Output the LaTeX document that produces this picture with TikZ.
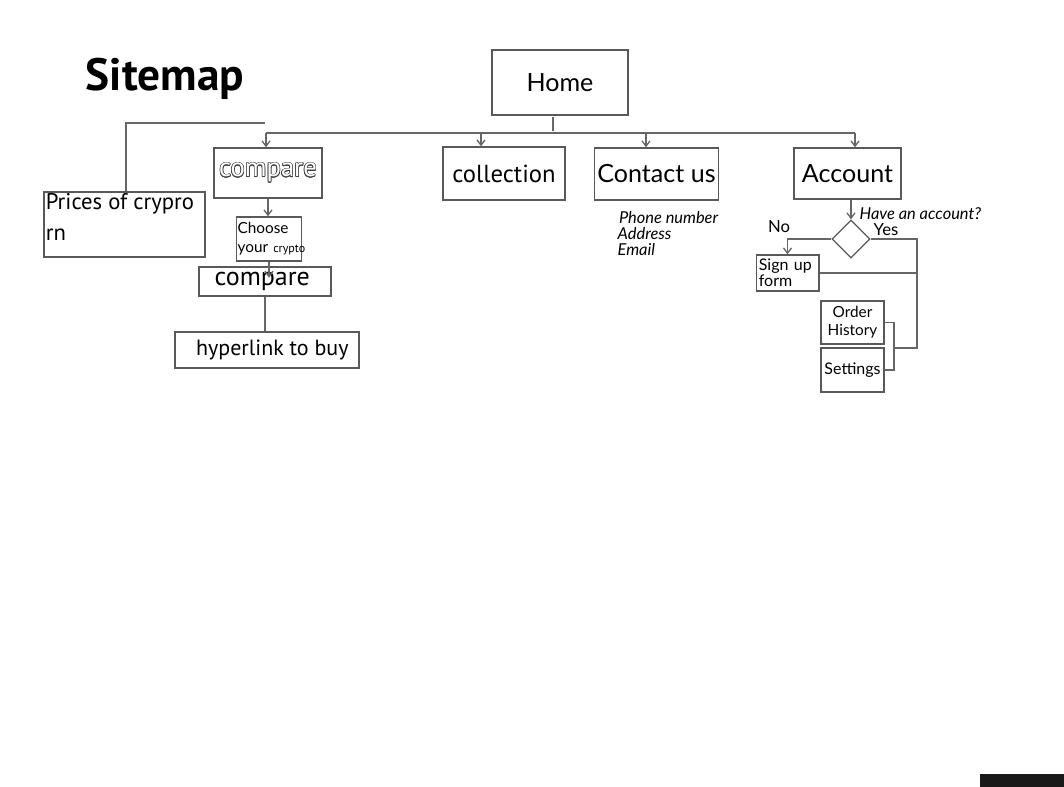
\documentclass[tikz,border=0pt]{standalone}
\usepackage{fontspec}
\setmainfont{Lato}
\newfontfamily\myriad{PT Sans}
\usepackage{contour}
\contourlength{0.45pt}
\usetikzlibrary{arrows.meta,shapes.geometric}

\begin{document}
\begin{tikzpicture}[x=0.75pt,y=-0.75pt,
  box/.style={draw=black!65,line width=1pt,inner sep=2pt},
  link/.style={draw=black!60,line width=1pt},
  arr/.style={link,-{Straight Barb[length=4pt,width=6pt]}},
  big/.style={font=\fontsize{18.8}{20}\selectfont},
  mid/.style={font=\myriad\fontsize{18.5}{20}\selectfont},
  small/.style={font=\fontsize{12}{12}\selectfont},
  note/.style={font=\itshape\fontsize{12.3}{12}\selectfont}]
\useasboundingbox (0,0) rectangle (1064,787);

% title
\node[font=\myriad\bfseries\fontsize{34}{36}\selectfont] (title) at (165,79) {Sitemap};

% top level
\node[box,big,minimum width=102pt,minimum height=48.75pt] (home) at (560,82.5) {Home};
\node[box,minimum width=81pt,minimum height=37.5pt,font=\myriad\fontsize{20}{22}\selectfont] (cmp) at (268,173) {\raisebox{2pt}{\contour{black!75}{\textcolor{white}{compare}}}};
\node[box,mid,minimum width=91.5pt,minimum height=39.75pt] (coll) at (504,173.5) {collection};
\node[box,big,minimum width=92.25pt,minimum height=39pt] (contact) at (656.5,174) {Contact us};
\node[box,big,minimum width=80.25pt,minimum height=38.25pt] (account) at (847.5,173.5) {Account};

% compare branch
\node[box,font=\myriad\fontsize{17}{23}\selectfont,inner xsep=1pt,inner ysep=0pt,minimum width=120.75pt,minimum height=48.75pt] (prices) at (124.5,224.5) {\parbox[c][46pt][t]{118pt}{\raggedright Prices of crypro\\rn}};
\node[box,font=\fontsize{11.5}{14}\selectfont,text width=47pt,inner xsep=1pt,align=left,minimum height=33pt] (choose) at (269,239) {Choose\\your~{\myriad\fontsize{9}{10}\selectfont crypto}};
\node[box,font=\myriad\fontsize{19.5}{20}\selectfont,minimum width=99pt,minimum height=21.75pt] (cmp2) at (265,281.5) {\hspace{-4pt}compare};
\node[box,font=\myriad\fontsize{16.5}{20}\selectfont,minimum width=138pt,minimum height=27pt] (buy) at (267,350) {\hspace{8pt}hyperlink to buy};

% contact details
\node[note,align=left,anchor=north west] (info) at (613,207) {\hspace{1pt}Phone number\\Address\\Email};

% account branch
\node[draw=black!65,line width=1pt,diamond,minimum size=28.5pt,inner sep=0pt] (dia) at (851,239) {};
\node[note,anchor=west] (ask) at (855,214) {Have an account?};
\node[small,font=\fontsize{12.5}{13}\selectfont] (no) at (779,227) {No};
\node[small,font=\fontsize{12.5}{13}\selectfont] (yes) at (886,230) {Yes};
\node[box,small,text width=43pt,inner xsep=2pt,align=left,minimum height=27pt] (signup) at (787.5,273) {Sign up\\form};
\node[box,font=\fontsize{11.5}{13.5}\selectfont,minimum width=47.25pt,minimum height=32.25pt,align=center] (order) at (852.5,322.5) {Order\\History};
\node[box,small,minimum width=47.25pt,minimum height=33pt] (settings) at (852.5,370) {Settings};

% bus
\coordinate (stemtop) at (553,117);
\coordinate (stembot) at (553,131);
\coordinate (busL) at (266,133);
\coordinate (busR) at (855,133);
\coordinate (t2) at (481,133);
\coordinate (t3) at (646,133);
\coordinate (lbusR) at (265,123);
\coordinate (lbusL) at (126,123);
\coordinate (yesX) at (917,239);
\coordinate (brk) at (894,348);

\draw[link] (stemtop) -- (stembot);
\draw[link] (busL) -- (busR);
\draw[arr] (busL) -- (busL |- cmp.north);
\draw[arr] (t2) -- (t2 |- coll.north);
\draw[arr] (t3) -- (t3 |- contact.north);
\draw[arr] (busR) -- (busR |- account.north);
\draw[link] (lbusR) -- (lbusL) -- (lbusL |- prices.north);

\draw[arr] (cmp.south) -- (cmp.south |- choose.north);
\draw[arr] (choose.south) -- ++(0,16);
\draw[link] (cmp2.south) -- (cmp2.south |- buy.north);

\draw[arr] (dia.north |- account.south) -- (dia.north);
\draw[arr] (dia.west) -- (signup.north |- dia.west) -- (signup.north);
\draw[link] (dia.east) -- (yesX) |- (brk);
\draw[link] (signup.east) -- (signup.east -| yesX);
\draw[link] (order.east) -- (order.east -| brk) -- (settings.east -| brk) -- (settings.east);

% footer bar
\fill[black!90] (980,774) rectangle (1064,787);
\end{tikzpicture}
\end{document}
